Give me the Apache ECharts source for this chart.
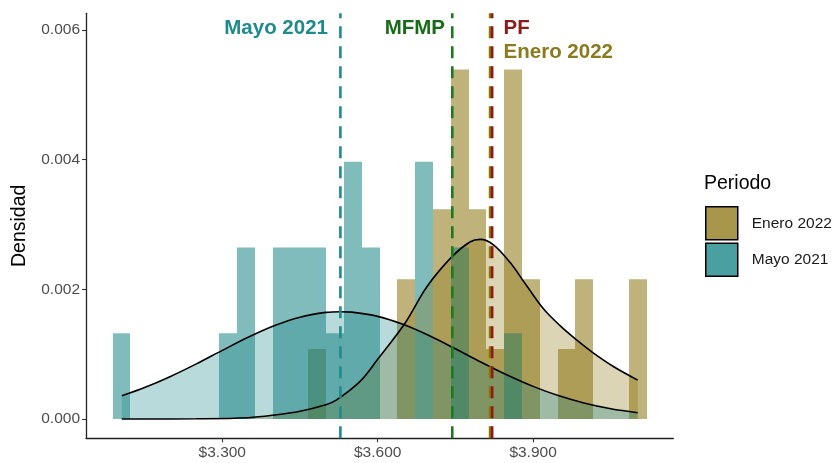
<!DOCTYPE html>
<html>
<head>
<meta charset="utf-8">
<script src="https://cdn.jsdelivr.net/npm/echarts@6/dist/echarts.min.js"></script>
<style>
  html, body { margin: 0; padding: 0; background: #ffffff; }
  #chart { width: 836px; height: 463px; }
</style>
</head>
<body>
<div id="chart"></div>
<script>
// Histogram bins shared by both periods
const binStart = 3088.4;
const binWidth = 34.36;

// Observations per bin (30 bins)
const countsEnero = [0,0,0,0,0,0,0,0,0,0,0,1,0,0,0,0,2,0,3,5,3,1,5,2,0,1,2,0,0,2];
const countsMayo  = [1,0,0,0,0,0,1,2,0,2,2,2,1,3,2,0,0,3,0,2,0,0,1,0,0,0,0,0,0,0];

// Fitted density curves [price, density]
const curveMayo = [
  [3106,0.000357],[3150,0.000484],[3200,0.000656],[3250,0.000850],[3300,0.001058],
  [3350,0.001260],[3400,0.001437],[3450,0.001570],[3500,0.001644],[3528,0.001655],
  [3550,0.001648],[3600,0.001583],[3650,0.001456],[3700,0.001283],[3750,0.001083],
  [3800,0.000875],[3850,0.000678],[3900,0.000503],[3950,0.000357],[4000,0.000243],
  [4050,0.000158],[4102,0.000097]
];
const curveEnero = [
  [3106,0.000000],[3150,0.000000],[3250,0.000003],[3350,0.000020],[3400,0.000060],
  [3450,0.000120],[3500,0.000220],[3520,0.000290],[3566,0.000580],[3600,0.000920],
  [3653,0.001480],[3695,0.002040],[3743,0.002500],[3778,0.002730],[3798,0.002770],
  [3823,0.002690],[3855,0.002420],[3888,0.002050],[3920,0.001700],[3952,0.001440],
  [3984,0.001220],[4016,0.001020],[4055,0.000810],[4102,0.000600]
];

// Reference lines
const refNames  = ['Mayo 2021', 'MFMP', 'Enero 2022', 'PF'];
const refValues = [3528, 3744, 3817, 3821];
const refColors = ['#1f8a8c', '#1b7a1b', '#8b7500', '#8b1a1a'];

// Annotation texts [label, x, y, align, colour]
const annotations = [
  ['Mayo 2021', 3504, 0.00603, 'right', '#1f8a8c'],
  ['MFMP',      3730, 0.00603, 'right', '#186c18'],
  ['PF',        3843, 0.00603, 'left',  '#8b1a1a'],
  ['Enero 2022',3843, 0.00565, 'left',  '#8b7a1e']
];

// Axis ticks
const xTicks = [3300, 3600, 3900];
const yTicks = [0, 0.002, 0.004, 0.006];

const xMin = 3036.9, xMax = 4170.7;
const yMin = -0.000298, yMax = 0.006258;

const FONT = '"Liberation Sans", Arial, Helvetica, sans-serif';

function histData(counts) {
  const n = counts.reduce((a, b) => a + b, 0);
  return counts.map((c, i) => [binStart + i * binWidth, binStart + (i + 1) * binWidth, c / (n * binWidth)]);
}

// Bars snapped to whole pixels so neighbouring bins meet without seams
function barRenderer(fill) {
  return function (params, api) {
    const d = api.value(2);
    if (!d) return null;
    const p0 = api.coord([api.value(0), d]);
    const p1 = api.coord([api.value(1), 0]);
    const x0 = Math.round(p0[0]), x1 = Math.round(p1[0]);
    return {
      type: 'rect',
      shape: { x: x0, y: p0[1], width: x1 - x0, height: p1[1] - p0[1] },
      style: { fill: fill }
    };
  };
}

const chart = echarts.init(document.getElementById('chart'), null, { renderer: 'canvas' });

const series = [
  {
    name: 'Enero 2022', type: 'custom', renderItem: barRenderer('rgba(134,110,4,0.53)'),
    data: histData(countsEnero), encode: { x: [0, 1], y: 2 }, silent: true
  },
  {
    name: 'Mayo 2021', type: 'custom', renderItem: barRenderer('rgba(17,129,130,0.53)'),
    data: histData(countsMayo), encode: { x: [0, 1], y: 2 }, silent: true
  },
  {
    name: 'Enero 2022', type: 'line', data: curveEnero, smooth: 0.35, showSymbol: false, silent: true,
    lineStyle: { color: '#000', width: 1.6 },
    areaStyle: { color: 'rgba(134,110,4,0.42)' }
  },
  {
    name: 'Mayo 2021', type: 'line', data: curveMayo, smooth: 0.35, showSymbol: false, silent: true,
    lineStyle: { color: '#000', width: 1.6 },
    areaStyle: { color: 'rgba(17,129,130,0.42)' }
  }
];

refValues.forEach((v, i) => {
  series.push({
    name: 'ref-' + refNames[i], type: 'line', showSymbol: false, silent: true,
    data: [[v, yMin], [v, yMax]],
    lineStyle: { color: refColors[i], width: 2.6, type: [12, 8], cap: 'butt' },
    z: 5
  });
});

series.push({
  name: 'labels', type: 'scatter', symbolSize: 0, silent: true, z: 6,
  itemStyle: { opacity: 1 },
  data: annotations.map(a => ({
    value: [a[1], a[2]],
    label: {
      show: true, formatter: a[0], position: [0, 0], align: a[3], verticalAlign: 'middle',
      color: a[4], fontSize: 20.5, fontWeight: 'bold', fontFamily: FONT, opacity: 1
    }
  }))
});

const option = {
  animation: false,
  backgroundColor: '#ffffff',
  grid: { left: 86, right: 162.7, top: 13.3, bottom: 24.7, containLabel: false },
  title: {
    text: 'Periodo', left: 704, top: 174, padding: 0,
    textStyle: { fontSize: 19.5, fontWeight: 'normal', color: '#000', fontFamily: FONT }
  },
  legend: {
    orient: 'vertical', left: 705, top: 206, padding: 0,
    itemWidth: 32, itemHeight: 33, itemGap: 2, icon: 'rect', selectedMode: false,
    textStyle: { fontSize: 15.5, color: '#1a1a1a', fontFamily: FONT, padding: [0, 0, 0, 9] },
    data: [
      { name: 'Enero 2022', itemStyle: { color: '#a8974a', borderColor: '#000', borderWidth: 1.5 } },
      { name: 'Mayo 2021', itemStyle: { color: '#4a9fa0', borderColor: '#000', borderWidth: 1.5 } }
    ]
  },
  xAxis: {
    type: 'value', min: xMin, max: xMax,
    axisLine: { onZero: false, lineStyle: { color: '#222', width: 1.3 } },
    axisTick: { customValues: xTicks, length: 4, lineStyle: { color: '#333', width: 1.1 } },
    axisLabel: {
      customValues: xTicks, margin: 6, color: '#4d4d4d', fontSize: 15.5, fontFamily: FONT,
      formatter: v => '$' + Math.floor(v / 1000) + '.' + String(Math.round(v % 1000)).padStart(3, '0')
    },
    splitLine: { show: false }
  },
  yAxis: {
    type: 'value', min: yMin, max: yMax,
    name: 'Densidad', nameLocation: 'middle', nameGap: 56,
    nameTextStyle: { fontSize: 19.5, color: '#000', fontFamily: FONT },
    axisLine: { show: true, onZero: false, lineStyle: { color: '#222', width: 1.3 } },
    axisTick: { show: true, customValues: yTicks, length: 4, lineStyle: { color: '#333', width: 1.1 } },
    axisLabel: {
      customValues: yTicks, margin: 6, color: '#4d4d4d', fontSize: 15.5, fontFamily: FONT,
      formatter: v => v.toFixed(3)
    },
    splitLine: { show: false }
  },
  series: series
};

chart.setOption(option);
</script>
</body>
</html>
